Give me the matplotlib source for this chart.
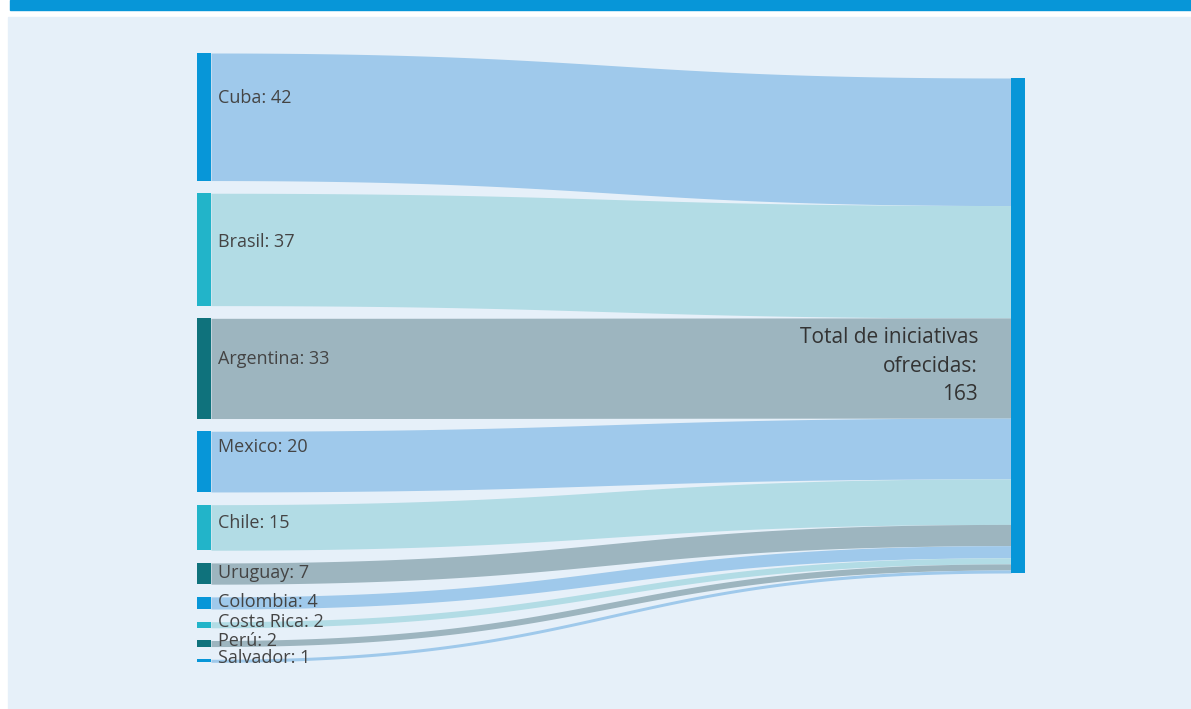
import matplotlib
matplotlib.use("Agg")
import matplotlib.pyplot as plt
import numpy as np
from matplotlib.patches import Rectangle

countries = ["Cuba", "Brasil", "Argentina", "Mexico", "Chile", "Uruguay",
             "Colombia", "Costa Rica", "Perú", "Salvador"]
values = [42, 37, 33, 20, 15, 7, 4, 2, 2, 1]
total_label = "Total de iniciativas\nofrecidas:\n{}"

node_colors = ["#0796d8", "#22b4c9", "#0f727c"]
link_colors = ["#9fc9eb", "#b2dce5", "#9db5bf"]
# vertical nudges of the labels relative to node centres (px)
label_dy = [-19, -7, -9, -15, -4, -1, -1, -3, -3, -3]

plt.rcParams['font.family'] = ['Open Sans', 'DejaVu Sans']

W, H = 1191, 709
fig = plt.figure(figsize=(W / 100, H / 100), dpi=100)
ax = fig.add_axes([0, 0, 1, 1])
ax.set_xlim(0, W)
ax.set_ylim(H, 0)
ax.axis("off")
fig.patch.set_facecolor("white")

# background panel and top bar
ax.add_patch(Rectangle((8, 17), W - 8, H - 17, color="#e6f0f9", zorder=0))
ax.add_patch(Rectangle((10, 0), W - 10, 10, color="#0796d8", zorder=0))

scale = 495 / sum(values)   # px per unit
gap = 12.7
left_x0, left_x1 = 197, 211
right_x0, right_x1 = 1011, 1025
left_top = 53
right_top = 78

def bezier(p0, p1, p2, p3, t):
    return ((1 - t) ** 3) * p0 + 3 * ((1 - t) ** 2) * t * p1 + 3 * (1 - t) * t ** 2 * p2 + t ** 3 * p3

t = np.linspace(0, 1, 200)
xm = (left_x1 + right_x0) / 2
xs = bezier(left_x1, xm, xm, right_x0, t)

ly = left_top
ry = right_top
for i, (name, v) in enumerate(zip(countries, values)):
    h = v * scale
    top = bezier(ly, ly, ry, ry, t)
    bot = bezier(ly + h, ly + h, ry + h, ry + h, t)
    ax.fill_between(xs, top, bot, color=link_colors[i % 3], lw=0, zorder=1)
    ax.add_patch(Rectangle((left_x0, ly), left_x1 - left_x0, h,
                           color=node_colors[i % 3], lw=0, zorder=3))
    ax.text(218, ly + h / 2 + label_dy[i], f"{name}: {v}", ha="left", va="center",
            fontsize=13, color="#444444", zorder=4)
    ly += h + gap
    ry += h

total = sum(values)
ax.add_patch(Rectangle((right_x0, right_top), right_x1 - right_x0, total * scale,
                       color="#0796d8", lw=0, zorder=3))
ax.text(978, 366, total_label.format(total), ha="right", va="center",
        fontsize=15, color="#333333", linespacing=1.45, zorder=4)

fig.savefig("out.png", dpi=100, facecolor="white")
